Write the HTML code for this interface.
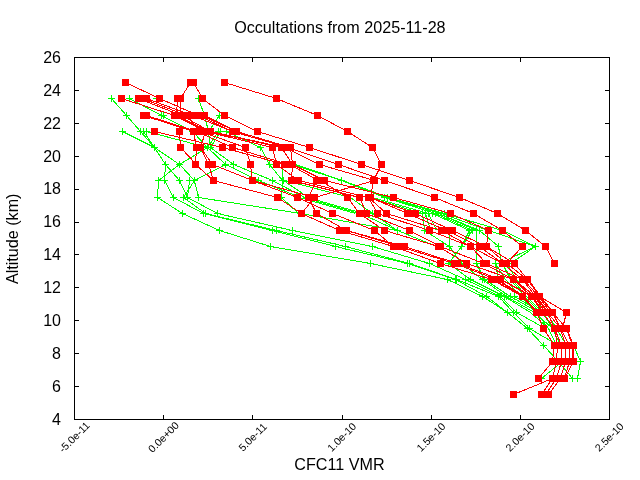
<!DOCTYPE html>
<html lang="en"><head><meta charset="utf-8"><title>Occultations from 2025-11-28</title>
<style>
html,body{margin:0;padding:0;background:#fff;overflow:hidden}
svg{display:block;will-change:transform}
text{font-family:"Liberation Sans",Arial,sans-serif;fill:#000}
</style></head><body>
<svg width="640" height="480" viewBox="0 0 640 480">
<rect width="640" height="480" fill="#fff"/>
<g shape-rendering="crispEdges" stroke-width="1" fill="none">
<path d="M74.5 57.5H609.5V419.5H74.5Z" stroke="#000"/>
<path d="M74 419.5h5M610 419.5h-5M74 386.5h5M610 386.5h-5M74 353.5h5M610 353.5h-5M74 320.5h5M610 320.5h-5M74 287.5h5M610 287.5h-5M74 254.5h5M610 254.5h-5M74 222.5h5M610 222.5h-5M74 189.5h5M610 189.5h-5M74 156.5h5M610 156.5h-5M74 123.5h5M610 123.5h-5M74 90.5h5M610 90.5h-5M74 57.5h5M610 57.5h-5M74.5 420v-5M74.5 57v5M163.5 420v-5M163.5 57v5M252.5 420v-5M252.5 57v5M342.5 420v-5M342.5 57v5M431.5 420v-5M431.5 57v5M520.5 420v-5M520.5 57v5M609.5 420v-5M609.5 57v5" stroke="#000"/>
<path d="M111.5 98.5L126.5 115.5M129.5 98.5L161.5 115.5M198.5 98.5L204.5 115.5M126.5 115.5L140.5 131.5M161.5 115.5L192.5 131.5M204.5 115.5L208.5 131.5M219.5 115.5L208.5 131.5M122.5 131.5L154.5 147.5M140.5 131.5L154.5 147.5M143.5 131.5L154.5 147.5M146.5 131.5L207.5 147.5M192.5 131.5L207.5 147.5M208.5 131.5L210.5 147.5M218.5 131.5L207.5 147.5M220.5 131.5L210.5 147.5M226.5 131.5L260.5 147.5M154.5 147.5L165.5 164.5M154.5 147.5L165.5 164.5M154.5 147.5L179.5 164.5M207.5 147.5L179.5 164.5M207.5 147.5L225.5 164.5M210.5 147.5L233.5 164.5M260.5 147.5L269.5 164.5M165.5 164.5L164.5 180.5M165.5 164.5L179.5 180.5M179.5 164.5L158.5 180.5M179.5 164.5L194.5 180.5M225.5 164.5L194.5 180.5M225.5 164.5L258.5 180.5M233.5 164.5L272.5 180.5M269.5 164.5L282.5 180.5M281.5 164.5L283.5 180.5M292.5 164.5L341.5 180.5M293.5 164.5L341.5 180.5M295.5 164.5L342.5 180.5M158.5 180.5L157.5 197.5M164.5 180.5L173.5 197.5M179.5 180.5L187.5 197.5M189.5 180.5L187.5 197.5M194.5 180.5L183.5 197.5M194.5 180.5L198.5 197.5M282.5 180.5L281.5 197.5M258.5 180.5L300.5 197.5M272.5 180.5L304.5 197.5M283.5 180.5L308.5 197.5M284.5 180.5L350.5 197.5M341.5 180.5L384.5 197.5M341.5 180.5L386.5 197.5M342.5 180.5L388.5 197.5M157.5 197.5L182.5 213.5M173.5 197.5L203.5 213.5M183.5 197.5L205.5 213.5M187.5 197.5L217.5 213.5M198.5 197.5L300.5 213.5M281.5 197.5L298.5 213.5M299.5 197.5L355.5 213.5M303.5 197.5L359.5 213.5M307.5 197.5L363.5 213.5M350.5 197.5L372.5 213.5M368.5 197.5L422.5 213.5M372.5 197.5L428.5 213.5M384.5 197.5L435.5 213.5M386.5 197.5L440.5 213.5M388.5 197.5L444.5 213.5M182.5 213.5L219.5 230.5M203.5 213.5L272.5 230.5M205.5 213.5L276.5 230.5M217.5 213.5L292.5 230.5M300.5 213.5L397.5 230.5M372.5 213.5L397.5 230.5M360.5 213.5L397.5 230.5M422.5 213.5L424.5 230.5M425.5 213.5L430.5 230.5M428.5 213.5L436.5 230.5M432.5 213.5L469.5 230.5M435.5 213.5L472.5 230.5M438.5 213.5L476.5 230.5M438.5 213.5L479.5 230.5M441.5 213.5L488.5 230.5M444.5 213.5L502.5 230.5M219.5 230.5L270.5 246.5M272.5 230.5L335.5 246.5M276.5 230.5L345.5 246.5M292.5 230.5L372.5 246.5M397.5 230.5L436.5 246.5M424.5 230.5L449.5 246.5M449.5 230.5L449.5 246.5M469.5 230.5L461.5 246.5M472.5 230.5L461.5 246.5M476.5 230.5L476.5 246.5M479.5 230.5L498.5 246.5M488.5 230.5L535.5 246.5M502.5 230.5L535.5 246.5M270.5 246.5L370.5 263.5M335.5 246.5L407.5 263.5M345.5 246.5L409.5 263.5M372.5 246.5L429.5 263.5M449.5 246.5L461.5 263.5M461.5 246.5L448.5 263.5M476.5 246.5L476.5 263.5M498.5 246.5L501.5 263.5M535.5 246.5L510.5 263.5M535.5 246.5L499.5 263.5M370.5 263.5L447.5 279.5M407.5 263.5L455.5 279.5M409.5 263.5L456.5 279.5M429.5 263.5L465.5 279.5M448.5 263.5L470.5 279.5M461.5 263.5L482.5 279.5M476.5 263.5L484.5 279.5M495.5 263.5L498.5 279.5M495.5 263.5L505.5 279.5M501.5 263.5L512.5 279.5M506.5 263.5L516.5 279.5M502.5 263.5L510.5 279.5M447.5 279.5L482.5 296.5M455.5 279.5L486.5 296.5M456.5 279.5L498.5 296.5M465.5 279.5L500.5 296.5M470.5 279.5L504.5 296.5M482.5 279.5L506.5 296.5M484.5 279.5L510.5 296.5M505.5 279.5L520.5 296.5M512.5 279.5L526.5 296.5M516.5 279.5L530.5 296.5M510.5 279.5L524.5 296.5M482.5 296.5L507.5 312.5M486.5 296.5L507.5 312.5M498.5 296.5L513.5 312.5M500.5 296.5L516.5 312.5M504.5 296.5L530.5 312.5M506.5 296.5L534.5 312.5M510.5 296.5L538.5 312.5M514.5 296.5L541.5 312.5M520.5 296.5L536.5 312.5M526.5 296.5L542.5 312.5M530.5 296.5L546.5 312.5M524.5 296.5L540.5 312.5M507.5 312.5L527.5 328.5M513.5 312.5L529.5 328.5M516.5 312.5L545.5 328.5M530.5 312.5L548.5 328.5M534.5 312.5L552.5 328.5M536.5 312.5L548.5 328.5M542.5 312.5L552.5 328.5M546.5 312.5L556.5 328.5M527.5 328.5L543.5 345.5M529.5 328.5L558.5 345.5M548.5 328.5L556.5 345.5M552.5 328.5L560.5 345.5M556.5 328.5L566.5 345.5M543.5 345.5L558.5 361.5M573.5 345.5L580.5 361.5M558.5 361.5L572.5 378.5M580.5 361.5L577.5 378.5M562.5 361.5L541.5 378.5" stroke="#0f0"/>
<path d="M108 98.5h7M111.5 95v7M126 98.5h7M129.5 95v7M153 98.5h7M156.5 95v7M195 98.5h7M198.5 95v7M123 115.5h7M126.5 112v7M158 115.5h7M161.5 112v7M160 115.5h7M163.5 112v7M201 115.5h7M204.5 112v7M216 115.5h7M219.5 112v7M119 131.5h7M122.5 128v7M137 131.5h7M140.5 128v7M140 131.5h7M143.5 128v7M143 131.5h7M146.5 128v7M189 131.5h7M192.5 128v7M205 131.5h7M208.5 128v7M215 131.5h7M218.5 128v7M217 131.5h7M220.5 128v7M223 131.5h7M226.5 128v7M151 147.5h7M154.5 144v7M204 147.5h7M207.5 144v7M207 147.5h7M210.5 144v7M257 147.5h7M260.5 144v7M162 164.5h7M165.5 161v7M176 164.5h7M179.5 161v7M222 164.5h7M225.5 161v7M230 164.5h7M233.5 161v7M266 164.5h7M269.5 161v7M155 180.5h7M158.5 177v7M161 180.5h7M164.5 177v7M176 180.5h7M179.5 177v7M186 180.5h7M189.5 177v7M191 180.5h7M194.5 177v7M255 180.5h7M258.5 177v7M269 180.5h7M272.5 177v7M279 180.5h7M282.5 177v7M280 180.5h7M283.5 177v7M338 180.5h7M341.5 177v7M154 197.5h7M157.5 194v7M170 197.5h7M173.5 194v7M180 197.5h7M183.5 194v7M184 197.5h7M187.5 194v7M195 197.5h7M198.5 194v7M278 197.5h7M281.5 194v7M381 197.5h7M384.5 194v7M384 197.5h7M387.5 194v7M179 213.5h7M182.5 210v7M200 213.5h7M203.5 210v7M202 213.5h7M205.5 210v7M214 213.5h7M217.5 210v7M297 213.5h7M300.5 210v7M369 213.5h7M372.5 210v7M419 213.5h7M422.5 210v7M422 213.5h7M425.5 210v7M425 213.5h7M428.5 210v7M429 213.5h7M432.5 210v7M432 213.5h7M435.5 210v7M435 213.5h7M438.5 210v7M438 213.5h7M441.5 210v7M441 213.5h7M444.5 210v7M216 230.5h7M219.5 227v7M269 230.5h7M272.5 227v7M273 230.5h7M276.5 227v7M289 230.5h7M292.5 227v7M394 230.5h7M397.5 227v7M421 230.5h7M424.5 227v7M466 230.5h7M469.5 227v7M469 230.5h7M472.5 227v7M473 230.5h7M476.5 227v7M476 230.5h7M479.5 227v7M267 246.5h7M270.5 243v7M332 246.5h7M335.5 243v7M342 246.5h7M345.5 243v7M369 246.5h7M372.5 243v7M446 246.5h7M449.5 243v7M458 246.5h7M461.5 243v7M495 246.5h7M498.5 243v7M532 246.5h7M535.5 243v7M367 263.5h7M370.5 260v7M404 263.5h7M407.5 260v7M406 263.5h7M409.5 260v7M426 263.5h7M429.5 260v7M445 263.5h7M448.5 260v7M458 263.5h7M461.5 260v7M473 263.5h7M476.5 260v7M492 263.5h7M495.5 260v7M444 279.5h7M447.5 276v7M452 279.5h7M455.5 276v7M453 279.5h7M456.5 276v7M462 279.5h7M465.5 276v7M467 279.5h7M470.5 276v7M479 279.5h7M482.5 276v7M481 279.5h7M484.5 276v7M479 296.5h7M482.5 293v7M483 296.5h7M486.5 293v7M495 296.5h7M498.5 293v7M497 296.5h7M500.5 293v7M501 296.5h7M504.5 293v7M503 296.5h7M506.5 293v7M507 296.5h7M510.5 293v7M511 296.5h7M514.5 293v7M504 312.5h7M507.5 309v7M510 312.5h7M513.5 309v7M513 312.5h7M516.5 309v7M524 328.5h7M527.5 325v7M526 328.5h7M529.5 325v7M540 345.5h7M543.5 342v7M570 345.5h7M573.5 342v7M555 361.5h7M558.5 358v7M577 361.5h7M580.5 358v7M538 378.5h7M541.5 375v7M569 378.5h7M572.5 375v7M574 378.5h7M577.5 375v7" stroke="#0f0"/>
<path d="M125.5 82.5L159.5 98.5M190.5 82.5L180.5 98.5M193.5 82.5L202.5 98.5M224.5 82.5L276.5 98.5M121.5 98.5L174.5 115.5M138.5 98.5L181.5 115.5M142.5 98.5L186.5 115.5M146.5 98.5L192.5 115.5M159.5 98.5L198.5 115.5M177.5 98.5L176.5 115.5M180.5 98.5L180.5 115.5M202.5 98.5L224.5 115.5M276.5 98.5L317.5 115.5M143.5 115.5L193.5 131.5M146.5 115.5L196.5 131.5M174.5 115.5L205.5 131.5M176.5 115.5L208.5 131.5M181.5 115.5L210.5 131.5M186.5 115.5L200.5 131.5M192.5 115.5L232.5 131.5M198.5 115.5L232.5 131.5M201.5 115.5L236.5 131.5M204.5 115.5L236.5 131.5M224.5 115.5L257.5 131.5M317.5 115.5L347.5 131.5M154.5 131.5L222.5 147.5M179.5 131.5L180.5 147.5M193.5 131.5L196.5 147.5M205.5 131.5L200.5 147.5M196.5 131.5L232.5 147.5M200.5 131.5L245.5 147.5M205.5 131.5L272.5 147.5M208.5 131.5L281.5 147.5M210.5 131.5L284.5 147.5M232.5 131.5L287.5 147.5M236.5 131.5L290.5 147.5M257.5 131.5L309.5 147.5M347.5 131.5L372.5 147.5M180.5 147.5L196.5 164.5M196.5 147.5L195.5 164.5M200.5 147.5L208.5 164.5M200.5 147.5L212.5 164.5M222.5 147.5L284.5 164.5M232.5 147.5L288.5 164.5M245.5 147.5L250.5 164.5M272.5 147.5L276.5 164.5M281.5 147.5L292.5 164.5M290.5 147.5L292.5 164.5M284.5 147.5L319.5 164.5M287.5 147.5L338.5 164.5M309.5 147.5L361.5 164.5M372.5 147.5L381.5 164.5M195.5 164.5L213.5 180.5M208.5 164.5L213.5 180.5M212.5 164.5L252.5 180.5M250.5 164.5L252.5 180.5M276.5 164.5L298.5 180.5M289.5 164.5L318.5 180.5M292.5 164.5L291.5 180.5M292.5 164.5L324.5 180.5M319.5 164.5L374.5 180.5M338.5 164.5L384.5 180.5M361.5 164.5L409.5 180.5M381.5 164.5L373.5 180.5M213.5 180.5L277.5 197.5M252.5 180.5L297.5 197.5M252.5 180.5L314.5 197.5M291.5 180.5L359.5 197.5M298.5 180.5L368.5 197.5M316.5 180.5L308.5 197.5M320.5 180.5L347.5 197.5M324.5 180.5L393.5 197.5M373.5 180.5L370.5 197.5M374.5 180.5L314.5 197.5M384.5 180.5L434.5 197.5M409.5 180.5L459.5 197.5M277.5 197.5L301.5 213.5M314.5 197.5L301.5 213.5M308.5 197.5L316.5 213.5M297.5 197.5L332.5 213.5M347.5 197.5L359.5 213.5M359.5 197.5L366.5 213.5M368.5 197.5L377.5 213.5M368.5 197.5L386.5 213.5M370.5 197.5L407.5 213.5M370.5 197.5L415.5 213.5M393.5 197.5L450.5 213.5M434.5 197.5L473.5 213.5M459.5 197.5L497.5 213.5M301.5 213.5L339.5 230.5M316.5 213.5L346.5 230.5M332.5 213.5L374.5 230.5M359.5 213.5L384.5 230.5M366.5 213.5L409.5 230.5M377.5 213.5L429.5 230.5M386.5 213.5L441.5 230.5M407.5 213.5L446.5 230.5M415.5 213.5L452.5 230.5M450.5 213.5L488.5 230.5M473.5 213.5L502.5 230.5M497.5 213.5L525.5 230.5M339.5 230.5L393.5 246.5M346.5 230.5L399.5 246.5M346.5 230.5L404.5 246.5M374.5 230.5L393.5 246.5M384.5 230.5L438.5 246.5M409.5 230.5L440.5 246.5M429.5 230.5L470.5 246.5M441.5 230.5L470.5 246.5M446.5 230.5L479.5 246.5M452.5 230.5L486.5 246.5M488.5 230.5L486.5 246.5M502.5 230.5L522.5 246.5M525.5 230.5L545.5 246.5M393.5 246.5L440.5 263.5M399.5 246.5L454.5 263.5M404.5 246.5L457.5 263.5M438.5 246.5L466.5 263.5M440.5 246.5L483.5 263.5M470.5 246.5L486.5 263.5M470.5 246.5L502.5 263.5M479.5 246.5L502.5 263.5M486.5 246.5L506.5 263.5M486.5 246.5L514.5 263.5M522.5 246.5L506.5 263.5M545.5 246.5L554.5 263.5M440.5 263.5L491.5 279.5M454.5 263.5L496.5 279.5M457.5 263.5L500.5 279.5M466.5 263.5L513.5 279.5M483.5 263.5L513.5 279.5M486.5 263.5L522.5 279.5M502.5 263.5L522.5 279.5M506.5 263.5L527.5 279.5M514.5 263.5L527.5 279.5M491.5 279.5L522.5 296.5M496.5 279.5L522.5 296.5M500.5 279.5L531.5 296.5M513.5 279.5L531.5 296.5M513.5 279.5L535.5 296.5M522.5 279.5L535.5 296.5M522.5 279.5L539.5 296.5M527.5 279.5L539.5 296.5M492.5 279.5L523.5 296.5M497.5 279.5L524.5 296.5M501.5 279.5L532.5 296.5M514.5 279.5L534.5 296.5M523.5 279.5L538.5 296.5M528.5 279.5L540.5 296.5M522.5 296.5L536.5 312.5M531.5 296.5L542.5 312.5M535.5 296.5L547.5 312.5M539.5 296.5L552.5 312.5M539.5 296.5L566.5 312.5M523.5 296.5L537.5 312.5M532.5 296.5L543.5 312.5M536.5 296.5L548.5 312.5M540.5 296.5L553.5 312.5M538.5 296.5L550.5 312.5M534.5 296.5L545.5 312.5M536.5 312.5L543.5 328.5M542.5 312.5L554.5 328.5M547.5 312.5L554.5 328.5M547.5 312.5L560.5 328.5M552.5 312.5L560.5 328.5M552.5 312.5L566.5 328.5M566.5 312.5L562.5 328.5M543.5 328.5L554.5 345.5M554.5 328.5L557.5 345.5M554.5 328.5L561.5 345.5M560.5 328.5L565.5 345.5M560.5 328.5L569.5 345.5M566.5 328.5L573.5 345.5M566.5 328.5L572.5 345.5M554.5 345.5L552.5 361.5M557.5 345.5L556.5 361.5M561.5 345.5L561.5 361.5M565.5 345.5L565.5 361.5M569.5 345.5L569.5 361.5M573.5 345.5L573.5 361.5M572.5 345.5L572.5 361.5M552.5 361.5L538.5 378.5M556.5 361.5L552.5 378.5M561.5 361.5L556.5 378.5M565.5 361.5L560.5 378.5M569.5 361.5L564.5 378.5M573.5 361.5L564.5 378.5M552.5 378.5L513.5 394.5M552.5 378.5L541.5 394.5M556.5 378.5L545.5 394.5M560.5 378.5L548.5 394.5" stroke="#f00"/>
<path d="M122 79h7v7h-7zM187 79h7v7h-7zM190 79h7v7h-7zM221 79h7v7h-7zM118 95h7v7h-7zM135 95h7v7h-7zM139 95h7v7h-7zM143 95h7v7h-7zM156 95h7v7h-7zM174 95h7v7h-7zM177 95h7v7h-7zM199 95h7v7h-7zM273 95h7v7h-7zM140 112h7v7h-7zM143 112h7v7h-7zM171 112h7v7h-7zM173 112h7v7h-7zM178 112h7v7h-7zM183 112h7v7h-7zM189 112h7v7h-7zM195 112h7v7h-7zM198 112h7v7h-7zM201 112h7v7h-7zM221 112h7v7h-7zM314 112h7v7h-7zM151 128h7v7h-7zM176 128h7v7h-7zM190 128h7v7h-7zM193 128h7v7h-7zM197 128h7v7h-7zM202 128h7v7h-7zM205 128h7v7h-7zM207 128h7v7h-7zM229 128h7v7h-7zM233 128h7v7h-7zM254 128h7v7h-7zM344 128h7v7h-7zM177 144h7v7h-7zM193 144h7v7h-7zM197 144h7v7h-7zM219 144h7v7h-7zM229 144h7v7h-7zM242 144h7v7h-7zM269 144h7v7h-7zM278 144h7v7h-7zM281 144h7v7h-7zM284 144h7v7h-7zM287 144h7v7h-7zM306 144h7v7h-7zM369 144h7v7h-7zM192 161h7v7h-7zM205 161h7v7h-7zM209 161h7v7h-7zM247 161h7v7h-7zM273 161h7v7h-7zM281 161h7v7h-7zM285 161h7v7h-7zM289 161h7v7h-7zM316 161h7v7h-7zM335 161h7v7h-7zM358 161h7v7h-7zM378 161h7v7h-7zM210 177h7v7h-7zM249 177h7v7h-7zM288 177h7v7h-7zM295 177h7v7h-7zM313 177h7v7h-7zM317 177h7v7h-7zM321 177h7v7h-7zM370 177h7v7h-7zM371 177h7v7h-7zM381 177h7v7h-7zM406 177h7v7h-7zM274 194h7v7h-7zM294 194h7v7h-7zM305 194h7v7h-7zM311 194h7v7h-7zM344 194h7v7h-7zM356 194h7v7h-7zM365 194h7v7h-7zM367 194h7v7h-7zM390 194h7v7h-7zM431 194h7v7h-7zM456 194h7v7h-7zM298 210h7v7h-7zM313 210h7v7h-7zM329 210h7v7h-7zM356 210h7v7h-7zM363 210h7v7h-7zM374 210h7v7h-7zM383 210h7v7h-7zM404 210h7v7h-7zM408 210h7v7h-7zM412 210h7v7h-7zM447 210h7v7h-7zM470 210h7v7h-7zM494 210h7v7h-7zM336 227h7v7h-7zM343 227h7v7h-7zM371 227h7v7h-7zM381 227h7v7h-7zM406 227h7v7h-7zM426 227h7v7h-7zM438 227h7v7h-7zM443 227h7v7h-7zM449 227h7v7h-7zM485 227h7v7h-7zM499 227h7v7h-7zM522 227h7v7h-7zM390 243h7v7h-7zM396 243h7v7h-7zM401 243h7v7h-7zM435 243h7v7h-7zM437 243h7v7h-7zM467 243h7v7h-7zM476 243h7v7h-7zM483 243h7v7h-7zM519 243h7v7h-7zM542 243h7v7h-7zM437 260h7v7h-7zM451 260h7v7h-7zM454 260h7v7h-7zM463 260h7v7h-7zM480 260h7v7h-7zM483 260h7v7h-7zM499 260h7v7h-7zM503 260h7v7h-7zM511 260h7v7h-7zM551 260h7v7h-7zM488 276h7v7h-7zM493 276h7v7h-7zM497 276h7v7h-7zM510 276h7v7h-7zM519 276h7v7h-7zM524 276h7v7h-7zM519 293h7v7h-7zM528 293h7v7h-7zM532 293h7v7h-7zM536 293h7v7h-7zM533 309h7v7h-7zM539 309h7v7h-7zM544 309h7v7h-7zM549 309h7v7h-7zM563 309h7v7h-7zM540 325h7v7h-7zM551 325h7v7h-7zM557 325h7v7h-7zM563 325h7v7h-7zM551 342h7v7h-7zM554 342h7v7h-7zM558 342h7v7h-7zM562 342h7v7h-7zM566 342h7v7h-7zM570 342h7v7h-7zM549 358h7v7h-7zM553 358h7v7h-7zM558 358h7v7h-7zM562 358h7v7h-7zM566 358h7v7h-7zM570 358h7v7h-7zM535 375h7v7h-7zM549 375h7v7h-7zM553 375h7v7h-7zM557 375h7v7h-7zM561 375h7v7h-7zM510 391h7v7h-7zM538 391h7v7h-7zM542 391h7v7h-7zM545 391h7v7h-7z" fill="#f00" stroke="none"/>
</g>
<g>
<text x="61" y="424.8" text-anchor="end" font-size="16">4</text>
<text x="61" y="391.9" text-anchor="end" font-size="16">6</text>
<text x="61" y="359.0" text-anchor="end" font-size="16">8</text>
<text x="61" y="326.1" text-anchor="end" font-size="16">10</text>
<text x="61" y="293.2" text-anchor="end" font-size="16">12</text>
<text x="61" y="260.3" text-anchor="end" font-size="16">14</text>
<text x="61" y="227.3" text-anchor="end" font-size="16">16</text>
<text x="61" y="194.4" text-anchor="end" font-size="16">18</text>
<text x="61" y="161.5" text-anchor="end" font-size="16">20</text>
<text x="61" y="128.6" text-anchor="end" font-size="16">22</text>
<text x="61" y="95.7" text-anchor="end" font-size="16">24</text>
<text x="61" y="62.8" text-anchor="end" font-size="16">26</text>
<text transform="translate(74.2 437.0) rotate(-45)" x="0" y="3.8" text-anchor="middle" font-size="10.5">-5.0e-11</text>
<text transform="translate(163.4 437.0) rotate(-45)" x="0" y="3.8" text-anchor="middle" font-size="10.5">0.0e+00</text>
<text transform="translate(252.5 437.0) rotate(-45)" x="0" y="3.8" text-anchor="middle" font-size="10.5">5.0e-11</text>
<text transform="translate(341.7 437.0) rotate(-45)" x="0" y="3.8" text-anchor="middle" font-size="10.5">1.0e-10</text>
<text transform="translate(430.9 437.0) rotate(-45)" x="0" y="3.8" text-anchor="middle" font-size="10.5">1.5e-10</text>
<text transform="translate(520.0 437.0) rotate(-45)" x="0" y="3.8" text-anchor="middle" font-size="10.5">2.0e-10</text>
<text transform="translate(609.2 437.0) rotate(-45)" x="0" y="3.8" text-anchor="middle" font-size="10.5">2.5e-10</text>
<text x="339.9" y="32.8" text-anchor="middle" font-size="16.15">Occultations from 2025-11-28</text>
<text x="339.5" y="470.4" text-anchor="middle" font-size="16.15">CFC11 VMR</text>
<text transform="translate(18.4 238.8) rotate(-90)" text-anchor="middle" font-size="16.15">Altitude (km)</text>
</g>
</svg>
</body></html>
